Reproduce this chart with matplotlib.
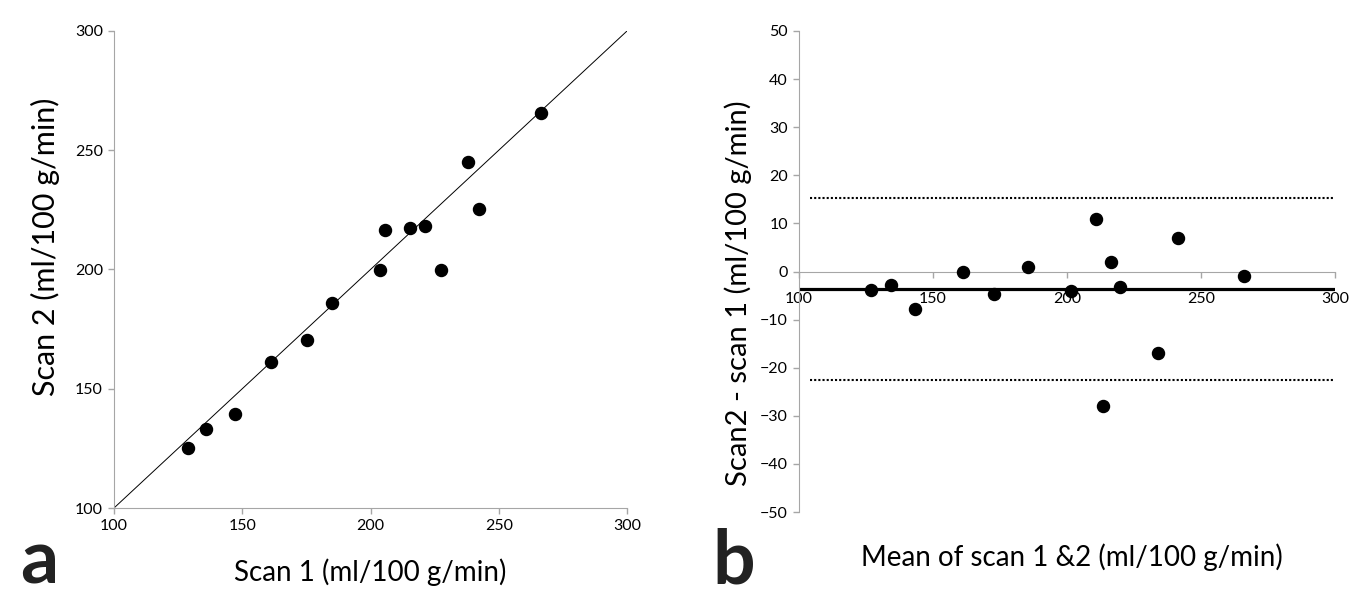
import matplotlib.pyplot as plt
import numpy as np

# --- Data ---
# panel a: scan 1 vs scan 2 perfusion (ml/100 g/min)
scan1 = [128.9, 135.9, 147.3, 161.2, 175.1, 184.9, 203.6, 205.5,
         215.5, 221.4, 227.6, 238.0, 242.3, 266.4]
scan2 = [125.1, 133.0, 139.4, 161.2, 170.4, 185.9, 199.6, 216.5,
         217.4, 218.2, 199.6, 244.9, 225.3, 265.5]

# panel b: Bland-Altman limits
BIAS = -3.6
LOA_UPPER = 15.2
LOA_LOWER = -22.6

a_ticks = [100, 150, 200, 250, 300]
b_xticks = [100, 150, 200, 250, 300]
b_yticks = [-50, -40, -30, -20, -10, 0, 10, 20, 30, 40, 50]

GREY = '#a6a6a6'
plt.rcParams['font.family'] = ['Lato', 'DejaVu Sans']

s1 = np.array(scan1)
s2 = np.array(scan2)
mean12 = (s1 + s2) / 2
diff12 = s2 - s1

fig = plt.figure(figsize=(13.66, 6.11), dpi=100)

# --- panel a ---
ax1 = fig.add_axes([114 / 1366, 1 - 508 / 611, 513 / 1366, 477 / 611])
ax1.plot([100, 300], [100, 300], color='black', lw=0.7)
ax1.scatter(s1, s2, s=75, color='black', zorder=3)
ax1.set_xlim(100, 300)
ax1.set_ylim(100, 300)
ax1.set_xticks(a_ticks)
ax1.set_yticks(a_ticks)
ax1.set_xlabel('Scan 1 (ml/100 g/min)', fontsize=20)
ax1.set_ylabel('Scan 2 (ml/100 g/min)', fontsize=22)
ax1.xaxis.set_label_coords(0.5, -0.105)
ax1.yaxis.set_label_coords(-0.105, 0.548)

# --- panel b ---
ax2 = fig.add_axes([799 / 1366, 1 - 512 / 611, 536 / 1366, 481 / 611])
ax2.axhline(BIAS, color='black', lw=2.3, zorder=2)
ax2.hlines([LOA_UPPER, LOA_LOWER], 104, 300, color='black', lw=1.5,
           linestyles=(0, (1, 1)))
ax2.scatter(mean12, diff12, s=75, color='black', zorder=3)
ax2.set_xlim(100, 300)
ax2.set_ylim(-50, 50)
ax2.set_xticks(b_xticks)
ax2.set_yticks(b_yticks)
ax2.spines['bottom'].set_position(('data', 0))
ax2.set_xlabel('Mean of scan 1 &2 (ml/100 g/min)', fontsize=20)
ax2.set_ylabel('Scan2 - scan 1 (ml/100 g/min)', fontsize=21)
ax2.xaxis.set_label_coords(0.509, -0.066)
ax2.yaxis.set_label_coords(-0.088, 0.455)

for ax in (ax1, ax2):
    ax.spines['top'].set_visible(False)
    ax.spines['right'].set_visible(False)
    ax.spines['left'].set_color(GREY)
    ax.spines['bottom'].set_color(GREY)
    ax.tick_params(color=GREY, length=4.5, width=1, labelsize=11.5)
    ax.set_facecolor('none')

ax2.tick_params(axis='x', pad=10)

fig.text(20 / 1366, 1 - 583 / 611, 'a', fontsize=54, fontweight='bold',
         color='#222222', va='baseline')
fig.text(712 / 1366, 1 - 583 / 611, 'b', fontsize=54, fontweight='bold',
         color='#222222', va='baseline')

fig.savefig('out.png', dpi=100)
